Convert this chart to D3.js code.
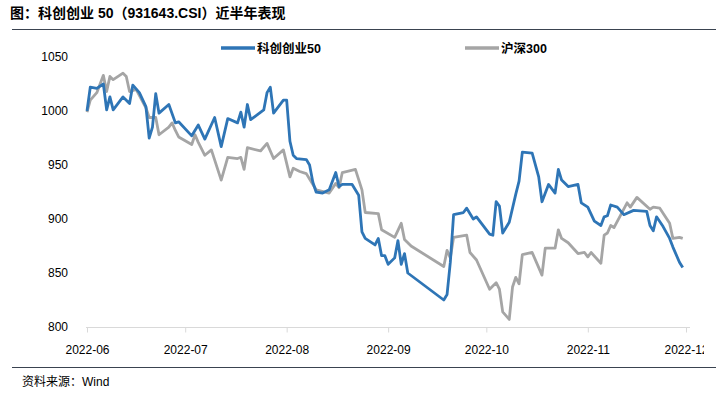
<!DOCTYPE html>
<html>
<head>
<meta charset="utf-8">
<script src="https://cdn.jsdelivr.net/npm/d3@7"></script>
<style>
  body { margin: 0; background: #fff; }
  text { font-family: "Liberation Sans", Arial, "Noto Sans CJK SC", sans-serif; }
</style>
</head>
<body>
<svg width="726" height="399"></svg>
<script>
// 科创创业50 (normalised, 2022-06-01 = 1000)
const kcData = [
  ["2022-06-01",1000],["2022-06-02",1022],["2022-06-04",1021],["2022-06-06",1025],["2022-06-07",1001],
  ["2022-06-08",1013],["2022-06-09",1001],["2022-06-12",1013],["2022-06-14",1007],["2022-06-15",1024],
  ["2022-06-17",1017],["2022-06-19",1004],["2022-06-20",975],["2022-06-21",985],["2022-06-22",1016],
  ["2022-06-23",998],["2022-06-26",1006],["2022-06-28",989],["2022-06-29",990],["2022-07-03",977],
  ["2022-07-05",987],["2022-07-07",974],["2022-07-10",994],["2022-07-12",967],["2022-07-14",993],
  ["2022-07-17",989],["2022-07-18",999],["2022-07-19",985],["2022-07-20",1006],["2022-07-21",992],
  ["2022-07-25",1001],["2022-07-26",1017],["2022-07-27",1022],["2022-07-28",998],["2022-07-31",1010],
  ["2022-08-01",1010],["2022-08-02",972],["2022-08-03",959],["2022-08-04",956],["2022-08-07",955],
  ["2022-08-08",950],["2022-08-09",934],["2022-08-10",925],["2022-08-12",924],["2022-08-14",927],
  ["2022-08-16",943],["2022-08-17",930],["2022-08-18",932],["2022-08-21",932],["2022-08-23",922],
  ["2022-08-24",888],["2022-08-25",882],["2022-08-28",876],["2022-08-29",882],["2022-08-30",866],
  ["2022-08-31",866],["2022-09-01",858],["2022-09-03",864],["2022-09-04",880],["2022-09-05",858],
  ["2022-09-06",868],["2022-09-07",850],["2022-09-18",825],["2022-09-19",830],["2022-09-20",860],
  ["2022-09-21",904],["2022-09-24",906],["2022-09-25",910],["2022-09-27",900],["2022-09-28",902],
  ["2022-10-02",886],["2022-10-03",885],["2022-10-04",916],["2022-10-05",912],["2022-10-06",887],
  ["2022-10-08",897],["2022-10-10",923],["2022-10-11",935],["2022-10-12",962],["2022-10-15",961],
  ["2022-10-17",939],["2022-10-18",916],["2022-10-20",932],["2022-10-22",924],["2022-10-23",946],
  ["2022-10-24",936],["2022-10-26",930],["2022-10-29",932],["2022-10-30",915],["2022-11-01",911],
  ["2022-11-03",898],["2022-11-05",894],["2022-11-06",902],["2022-11-07",903],["2022-11-08",913],
  ["2022-11-10",911],["2022-11-12",904],["2022-11-15",908],["2022-11-19",907],["2022-11-20",894],
  ["2022-11-21",889],["2022-11-22",902],["2022-11-24",893],["2022-11-26",882],["2022-11-27",874],
  ["2022-11-29",860],["2022-11-30",855]
]

// 沪深300 (normalised, 2022-06-01 = 1000)
const hsData = [
  ["2022-06-01",999],["2022-06-02",1010],["2022-06-04",1017],["2022-06-06",1033],["2022-06-07",1018],
  ["2022-06-08",1032],["2022-06-09",1029],["2022-06-12",1035],["2022-06-13",1032],["2022-06-14",1018],
  ["2022-06-16",1020],["2022-06-19",1003],["2022-06-20",994],["2022-06-22",994],["2022-06-23",978],
  ["2022-06-26",985],["2022-06-27",989],["2022-06-28",982],["2022-06-29",976],["2022-07-03",969],
  ["2022-07-04",978],["2022-07-05",971],["2022-07-07",959],["2022-07-09",964],["2022-07-12",936],
  ["2022-07-14",957],["2022-07-17",956],["2022-07-18",957],["2022-07-19",946],["2022-07-20",966],
  ["2022-07-24",963],["2022-07-26",970],["2022-07-28",956],["2022-07-31",964],["2022-08-02",939],
  ["2022-08-03",947],["2022-08-05",944],["2022-08-07",942],["2022-08-08",937],["2022-08-10",927],
  ["2022-08-14",924],["2022-08-16",933],["2022-08-17",929],["2022-08-18",943],["2022-08-22",946],
  ["2022-08-24",927],["2022-08-25",906],["2022-08-29",905],["2022-08-30",890],["2022-09-03",883],
  ["2022-09-05",896],["2022-09-06",881],["2022-09-08",875],["2022-09-18",856],["2022-09-19",871],
  ["2022-09-20",864],["2022-09-21",883],["2022-09-25",885],["2022-09-26",869],["2022-09-28",862],
  ["2022-10-02",835],["2022-10-04",841],["2022-10-05",835],["2022-10-06",814],["2022-10-08",807],
  ["2022-10-09",837],["2022-10-10",846],["2022-10-11",840],["2022-10-12",867],["2022-10-15",869],
  ["2022-10-18",848],["2022-10-19",873],["2022-10-22",873],["2022-10-23",890],["2022-10-24",882],
  ["2022-10-26",878],["2022-10-29",868],["2022-10-31",869],["2022-11-01",865],["2022-11-02",869],
  ["2022-11-05",859],["2022-11-06",885],["2022-11-07",887],["2022-11-08",894],["2022-11-09",892],
  ["2022-11-13",915],["2022-11-14",911],["2022-11-16",920],["2022-11-20",909],["2022-11-21",911],
  ["2022-11-23",910],["2022-11-26",896],["2022-11-27",882],["2022-11-29",883],["2022-11-30",882]
]

const seriesNames = ["科创创业50", "沪深300"]
const seriesColors = ["#2e75b6", "#a5a5a5"]
const yTicks = [800, 850, 900, 950, 1000, 1050]
const xTicks = ["2022-06-01","2022-07-01","2022-08-01","2022-09-01","2022-10-01","2022-11-01","2022-12-01"]
const titleText = "图：科创创业 50（931643.CSI）近半年表现"
const sourceText = "资料来源：Wind"

const parse = d3.timeParse("%Y-%m-%d")
let svg = d3.select("svg")

let x = d3.scaleTime()
    .domain([parse("2022-06-01"), parse("2022-12-01")])
    .range([87, 686])
let y = d3.scaleLinear()
    .domain([800, 1050])
    .range([327, 57])

// title + rules
svg.append("text")
    .attr("x", 10).attr("y", 18)
    .attr("font-size", 14).attr("font-weight", "bold")
    .attr("fill", "#000")
    .text(titleText)
svg.append("line")
    .attr("x1", 12).attr("x2", 716).attr("y1", 29.5).attr("y2", 29.5)
    .attr("stroke", "#3a4350").attr("stroke-width", 1)
svg.append("line")
    .attr("x1", 12).attr("x2", 716).attr("y1", 367.5).attr("y2", 367.5)
    .attr("stroke", "#3a4350").attr("stroke-width", 1)
svg.append("text")
    .attr("x", 22).attr("y", 386)
    .attr("font-size", 12).attr("fill", "#000")
    .text(sourceText)

// chart object ends a little past the last tick, so the last month label is cut off
svg.append("clipPath").attr("id", "chartClip")
  .append("rect").attr("x", 0).attr("y", 30).attr("width", 704).attr("height", 336)

// y axis labels only
let yAxis = svg.append("g")
    .attr("transform", "translate(68,0)")
    .call(d3.axisLeft(y).tickValues(yTicks).tickSize(0).tickPadding(0).tickFormat(d3.format("d")))
yAxis.select(".domain").remove()
yAxis.selectAll("text").attr("font-size", 12).attr("fill", "#000")
    .attr("font-family", "Liberation Sans, Arial, sans-serif")

// x axis
let xAxis = svg.append("g")
    .attr("clip-path", "url(#chartClip)")
  .append("g")
    .attr("transform", "translate(0,327.5)")
    .call(d3.axisBottom(x).tickValues(xTicks.map(parse)).tickSize(5).tickSizeOuter(0)
          .tickPadding(13).tickFormat(d3.timeFormat("%Y-%m")))
xAxis.select(".domain").attr("stroke", "#d9d9d9").attr("d", "M86,0H690")
xAxis.selectAll(".tick line").attr("stroke", "#d9d9d9")
xAxis.selectAll("text").attr("font-size", 12).attr("fill", "#000")
    .attr("font-family", "Liberation Sans, Arial, sans-serif")

// lines
let line = d3.line()
    .x(d => x(parse(d[0])))
    .y(d => y(d[1]))

let allSeries = [kcData, hsData]
// gray first so blue sits on top where they cross
svg.append("g")
  .selectAll("path")
  .data([1, 0])
  .enter().append("path")
    .attr("d", i => line(allSeries[i]))
    .attr("fill", "none")
    .attr("stroke", i => seriesColors[i])
    .attr("stroke-width", 2.8)
    .attr("stroke-linejoin", "round")

// legend
let legendX = [221, 465]
let legend = svg.append("g")
  .selectAll("g")
  .data(seriesNames)
  .enter().append("g")
    .attr("transform", (d, i) => `translate(${legendX[i]},48)`)
legend.append("line")
    .attr("x1", 0).attr("x2", 34).attr("y1", 0).attr("y2", 0)
    .attr("stroke", (d, i) => seriesColors[i]).attr("stroke-width", 3.5)
legend.append("text")
    .attr("x", 36).attr("y", 5)
    .attr("font-size", 12.5).attr("font-weight", "bold").attr("fill", "#000")
    .text(d => d)
</script>
</body>
</html>
